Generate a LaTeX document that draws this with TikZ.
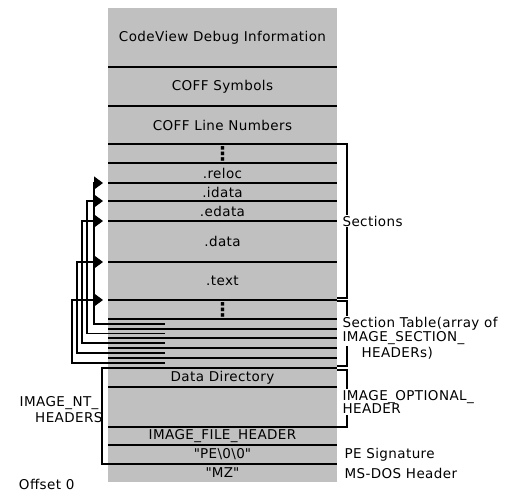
\documentclass[tikz,border=0pt]{standalone}
\usepackage{fontspec}
\setmainfont{DejaVu Sans}[LetterSpace=3]
\usepackage{tikz}
\usetikzlibrary{positioning,arrows.meta}
\definecolor{silver}{RGB}{192,192,192}

\begin{document}
\begin{tikzpicture}[x=1pt, y=-1pt, line width=1.1pt,
  row/.style={fill=silver, shape=rectangle, minimum width=229pt, inner sep=0pt, outer sep=0pt, font=\fontsize{13.5}{15}\selectfont},
  lbl/.style={fill=white, inner sep=1pt, font=\fontsize{13.5}{15}\selectfont},
  ptr/.style={-{Triangle[length=9pt, width=13pt]}}]
\useasboundingbox (0,0) rectangle (516,497);
% the file, top of the image down to offset 0
\node[row, minimum height=59pt, anchor=north west] (cv) at (108,8) {CodeView Debug Information};
\node[row, minimum height=39pt, below=0pt of cv] (sym) {COFF Symbols};
\node[row, minimum height=38pt, below=0pt of sym] (lnum) {COFF Line Numbers};
\node[row, minimum height=19pt, below=0pt of lnum] (dots1) {\fontsize{19}{19}\selectfont\bfseries ⋮};
\node[row, minimum height=20pt, below=0pt of dots1] (reloc) {.reloc};
\node[row, minimum height=18pt, below=0pt of reloc] (idata) {.idata};
\node[row, minimum height=20pt, below=0pt of idata] (edata) {.edata};
\node[row, minimum height=41pt, below=0pt of edata] (data) {.data};
\node[row, minimum height=38pt, below=0pt of data] (text) {.text};
\node[row, minimum height=19pt, below=0pt of text] (dots2) {\fontsize{19}{19}\selectfont\bfseries ⋮};
\node[row, minimum height=10pt, below=0pt of dots2] (h1) {};
\node[row, minimum height=9pt, below=0pt of h1] (h2) {};
\node[row, minimum height=10pt, below=0pt of h2] (h3) {};
\node[row, minimum height=10pt, below=0pt of h3] (h4) {};
\node[row, minimum height=10pt, below=0pt of h4] (h5) {};
\node[row, minimum height=19pt, below=0pt of h5] (dd) {Data Directory};
\node[row, minimum height=40pt, below=0pt of dd] (opt) {};
\node[row, minimum height=18pt, below=0pt of opt] (fh) {IMAGE\_FILE\_HEADER};
\node[row, minimum height=19pt, below=0pt of fh] (pe) {\textquotedbl PE\textbackslash 0\textbackslash 0\textquotedbl};
\node[row, minimum height=18pt, below=0pt of pe] (mz) {\textquotedbl MZ\textquotedbl};
% row borders
\draw (cv.south west) -- (cv.south east) (sym.south west) -- (sym.south east) (lnum.south west) -- (lnum.south east);
\draw (dots1.south west) -- (dots1.south east) (reloc.south west) -- (reloc.south east) (idata.south west) -- (idata.south east);
\draw (edata.south west) -- (edata.south east) (data.south west) -- (data.south east) (text.south west) -- (text.south east);
\draw (dots2.south west) -- (dots2.south east) (h1.south west) -- (h1.south east) (h2.south west) -- (h2.south east);
\draw (h3.south west) -- (h3.south east) (h4.south west) -- (h4.south east) (h5.south west) -- (h5.south east);
\draw (dd.south west) -- (dd.south east) (opt.south west) -- (opt.south east) (fh.south west) -- (fh.south east);
\draw (pe.south west) -- (pe.south east);
% section headers point at their sections
\draw[ptr] ([xshift=57pt]h1.west) -| ([xshift=-14pt]reloc.south west) -- ([xshift=-5pt]reloc.south west);
\draw[ptr] ([xshift=57pt]h2.west) -| ([xshift=-21pt]idata.south west) -- ([xshift=-5pt]idata.south west);
\draw[ptr] ([xshift=57pt]h3.west) -| ([xshift=-26pt]edata.south west) -- ([xshift=-5pt]edata.south west);
\draw[ptr] ([xshift=57pt]h4.west) -| ([xshift=-31pt]data.south west) -- ([xshift=-5pt]data.south west);
\draw[ptr] ([xshift=57pt]h5.west) -| ([xshift=-36pt]text.south west) -- ([xshift=-5pt]text.south west);
% brackets
\draw (dots1.north east) -- ([xshift=10pt]dots1.north east) |- ([yshift=2pt]text.south east);
\draw ([yshift=-1pt]text.south east) -- ([xshift=10pt, yshift=-1pt]text.south east) |- ([yshift=2pt]h5.south east);
\draw ([yshift=-2pt]h5.south east) -- ([xshift=10pt, yshift=-2pt]h5.south east) |- (opt.south east);
\draw (dd.north west) -- ([xshift=-6pt]dd.north west) |- (pe.south west);
% labels
\node[lbl, anchor=west] (sec) at ([xshift=4pt]edata.south east) {Sections};
\node[lbl, anchor=west] (st1) at ([xshift=4pt]h1.east) {Section Table(array of};
\node[lbl, anchor=west] (st2) at ([xshift=4pt]h2.south east) {IMAGE\_SECTION\_};
\node[lbl, anchor=west] (st3) at ([xshift=23pt]h4.east) {HEADERs)};
\node[lbl, anchor=west] (oh1) at ([xshift=4pt, yshift=10pt]opt.east) {IMAGE\_OPTIONAL\_};
\node[lbl, anchor=west] (oh2) at ([xshift=4pt, yshift=-2pt]opt.east) {HEADER};
\node[lbl, anchor=west] (sig) at ([xshift=6pt]pe.east) {PE Signature};
\node[lbl, anchor=west] (dos) at ([xshift=6pt]mz.east) {MS-DOS Header};
\node[lbl, fill=none, anchor=east] (nt1) at ([xshift=-8pt, yshift=4pt]opt.west) {IMAGE\_NT\_};
\node[lbl, fill=none, anchor=east] (nt2) at ([xshift=-4pt, yshift=-11pt]opt.west) {HEADERS};
\node[lbl, anchor=east] (off) at ([xshift=-32pt, yshift=-2pt]mz.south west) {Offset 0};
\end{tikzpicture}
\end{document}
